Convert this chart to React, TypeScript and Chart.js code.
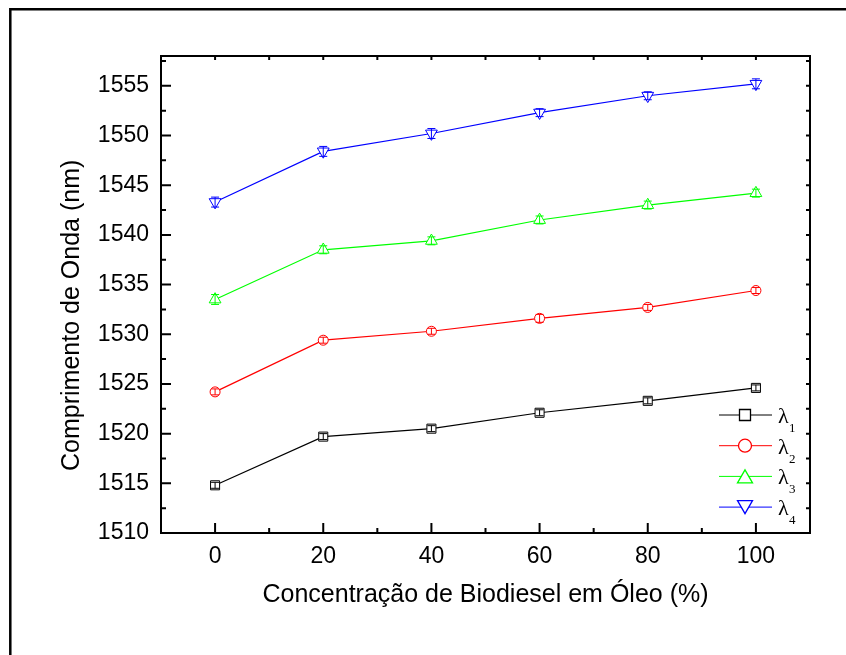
import React, { useEffect, useRef } from "react";
import { Chart, registerables } from "chart.js";

Chart.register(...registerables);

// ---- data ----
const concentrations = [0, 20, 40, 60, 80, 100];
const lambda1 = [1514.8, 1519.7, 1520.5, 1522.1, 1523.3, 1524.6];
const lambda2 = [1524.2, 1529.4, 1530.3, 1531.6, 1532.7, 1534.4];
const lambda3 = [1533.5, 1538.5, 1539.4, 1541.5, 1543.0, 1544.2];
const lambda4 = [1543.3, 1548.4, 1550.2, 1552.3, 1554.0, 1555.2];
const err1 = [0.3, 0.3, 0.3, 0.3, 0.3, 0.3];
const err2 = [0.3, 0.3, 0.3, 0.4, 0.3, 0.3];
const err3 = [0.5, 0.4, 0.4, 0.4, 0.4, 0.4];
const err4 = [0.5, 0.5, 0.5, 0.4, 0.4, 0.5];
const seriesNames = ["λ1", "λ2", "λ3", "λ4"];
const xMajorTicks = [0, 20, 40, 60, 80, 100];
const xMinorTicks = [10, 30, 50, 70, 90];
const yMajorTicks = [1510, 1515, 1520, 1525, 1530, 1535, 1540, 1545, 1550, 1555];
const yMinorTicks = [1512.5, 1517.5, 1522.5, 1527.5, 1532.5, 1537.5, 1542.5, 1547.5, 1552.5, 1557.5];
const xTitle = "Concentração de Biodiesel em Óleo (%)";
const yTitle = "Comprimento de Onda (nm)";

const colors = ["#000000", "#FF0000", "#00FF00", "#0000FF"];
const shapes = ["square", "circle", "up", "down"];

function drawMarker(ctx: CanvasRenderingContext2D, shape: string, x: number, y: number, s: number) {
  ctx.beginPath();
  if (shape === "square") {
    ctx.rect(x - s / 2, y - s / 2, s, s);
  } else if (shape === "circle") {
    ctx.arc(x, y, s / 2, 0, Math.PI * 2);
  } else if (shape === "up") {
    const h = s * 0.866;
    ctx.moveTo(x, y - h / 2);
    ctx.lineTo(x + s / 2, y + h / 2);
    ctx.lineTo(x - s / 2, y + h / 2);
    ctx.closePath();
  } else {
    const h = s * 0.866;
    ctx.moveTo(x, y + h / 2);
    ctx.lineTo(x + s / 2, y - h / 2);
    ctx.lineTo(x - s / 2, y - h / 2);
    ctx.closePath();
  }
  ctx.fillStyle = "#ffffff";
  ctx.fill();
  ctx.stroke();
}

const framePlugin = {
  id: "framePlugin",
  beforeDraw(chart: any) {
    const ctx = chart.ctx;
    ctx.save();
    ctx.fillStyle = "#ffffff";
    ctx.fillRect(0, 0, chart.width, chart.height);
    ctx.strokeStyle = "#000";
    ctx.lineWidth = 2.5;
    ctx.beginPath();
    ctx.moveTo(10.3, chart.height);
    ctx.lineTo(10.3, 9.3);
    ctx.lineTo(chart.width, 9.3);
    ctx.stroke();
    ctx.restore();
  },
  afterDatasetsDraw(chart: any) {
    const ctx = chart.ctx;
    const xs = chart.scales.x;
    const ys = chart.scales.y;
    const errs = [err1, err2, err3, err4];
    ctx.save();
    chart.data.datasets.forEach((ds: any, i: number) => {
      ctx.strokeStyle = colors[i];
      ctx.lineWidth = 1;
      ds.data.forEach((v: number, j: number) => {
        const px = xs.getPixelForValue(concentrations[j]);
        const p1 = ys.getPixelForValue(v + errs[i][j]);
        const p2 = ys.getPixelForValue(v - errs[i][j]);
        ctx.beginPath();
        ctx.moveTo(px, p1);
        ctx.lineTo(px, p2);
        ctx.moveTo(px - 4, p1);
        ctx.lineTo(px + 4, p1);
        ctx.moveTo(px - 4, p2);
        ctx.lineTo(px + 4, p2);
        ctx.stroke();
      });
    });
    ctx.restore();
  },
  afterDraw(chart: any) {
    const ctx = chart.ctx;
    const { left, right, top, bottom } = chart.chartArea;
    const xs = chart.scales.x;
    const ys = chart.scales.y;
    ctx.save();
    ctx.strokeStyle = "#000";
    ctx.lineWidth = 2;
    ctx.strokeRect(left, top, right - left, bottom - top);
    ctx.beginPath();
    xMajorTicks.forEach((v) => {
      const p = xs.getPixelForValue(v);
      ctx.moveTo(p, bottom);
      ctx.lineTo(p, bottom - 10);
      ctx.moveTo(p, top);
      ctx.lineTo(p, top + 4);
    });
    xMinorTicks.forEach((v) => {
      const p = xs.getPixelForValue(v);
      ctx.moveTo(p, bottom);
      ctx.lineTo(p, bottom - 5);
      ctx.moveTo(p, top);
      ctx.lineTo(p, top + 4);
    });
    yMajorTicks.forEach((v) => {
      const p = ys.getPixelForValue(v);
      ctx.moveTo(left, p);
      ctx.lineTo(left + 10, p);
      ctx.moveTo(right, p);
      ctx.lineTo(right - 4, p);
    });
    yMinorTicks.forEach((v) => {
      const p = ys.getPixelForValue(v);
      ctx.moveTo(left, p);
      ctx.lineTo(left + 5, p);
      ctx.moveTo(right, p);
      ctx.lineTo(right - 4, p);
    });
    ctx.stroke();

    // legend
    const rowY0 = bottom - 118;
    const rowStep = 30.7;
    chart.data.datasets.forEach((ds: any, i: number) => {
      const y = rowY0 + i * rowStep;
      ctx.strokeStyle = colors[i];
      ctx.lineWidth = 1;
      ctx.beginPath();
      ctx.moveTo(right - 91, y);
      ctx.lineTo(right - 38, y);
      ctx.stroke();
      const sz = shapes[i] === "square" ? 11 : shapes[i] === "circle" ? 13 : 15;
      ctx.lineWidth = 1.3;
      drawMarker(ctx, shapes[i], right - 65, y, sz);
      const name = seriesNames[i];
      ctx.fillStyle = "#000";
      ctx.textAlign = "left";
      ctx.textBaseline = "alphabetic";
      ctx.font = "22px 'Liberation Serif'";
      ctx.fillText(name.slice(0, 1), right - 32, y + 8);
      ctx.font = "13px 'Liberation Serif'";
      ctx.fillText(name.slice(1), right - 21, y + 17);
    });
    ctx.restore();
  },
};

export default function App() {
  const ref = useRef<HTMLCanvasElement | null>(null);
  useEffect(() => {
    if (!ref.current) return;
    const datasets = [lambda1, lambda2, lambda3, lambda4].map((d, i) => ({
      label: seriesNames[i],
      data: d,
      borderColor: colors[i],
      backgroundColor: "#ffffff",
      borderWidth: 1.2,
      pointStyle: i === 0 ? "rect" : i === 1 ? "circle" : "triangle",
      rotation: i === 3 ? 180 : 0,
      pointRadius: i === 0 ? 6.4 : i === 1 ? 5 : 6.8,
      pointBorderWidth: 1,
      pointBackgroundColor: "#ffffff",
      pointBorderColor: colors[i],
      tension: 0,
      clip: false as any,
    }));
    const chart = new Chart(ref.current, {
      type: "line",
      data: { labels: concentrations, datasets },
      options: {
        animation: false,
        responsive: false,
        layout: { padding: { left: 0, top: 56, right: 36, bottom: 0 } },
        plugins: { legend: { display: false }, tooltip: { enabled: false } },
        scales: {
          x: {
            type: "linear",
            min: -10,
            max: 110,
            grid: { display: false },
            border: { display: false },
            afterBuildTicks: (s: any) => {
              s.ticks = xMajorTicks.map((v) => ({ value: v }));
            },
            afterFit: (s: any) => {
              s.height = 122;
            },
            ticks: {
              color: "#000",
              padding: 2,
              maxRotation: 0,
              callback: (v: any) => String(v),
              font: { family: "'Liberation Sans', Arial", size: 23 },
            },
            title: {
              display: true,
              text: xTitle,
              color: "#000",
              padding: { top: 0, bottom: 45 },
              font: { family: "'Liberation Sans', Arial", size: 25 },
            },
          },
          y: {
            type: "linear",
            min: 1510,
            max: 1558,
            grid: { display: false },
            border: { display: false },
            afterBuildTicks: (s: any) => {
              s.ticks = yMajorTicks.map((v) => ({ value: v }));
            },
            afterFit: (s: any) => {
              s.width = 161;
            },
            ticks: {
              color: "#000",
              padding: 4,
              callback: (v: any) => String(v),
              font: { family: "'Liberation Sans', Arial", size: 23 },
            },
            title: {
              display: true,
              text: yTitle + "      ",
              color: "#000",
              padding: { top: 57, bottom: 0 },
              font: { family: "'Liberation Sans', Arial", size: 25 },
            },
          },
        },
      },
      plugins: [framePlugin],
    });
    return () => chart.destroy();
  }, []);
  return (
    <div style={{ position: "absolute", left: 0, top: 0, width: 846, height: 655 }}>
      <canvas ref={ref} width={846} height={655} style={{ display: "block" }} />
    </div>
  );
}
